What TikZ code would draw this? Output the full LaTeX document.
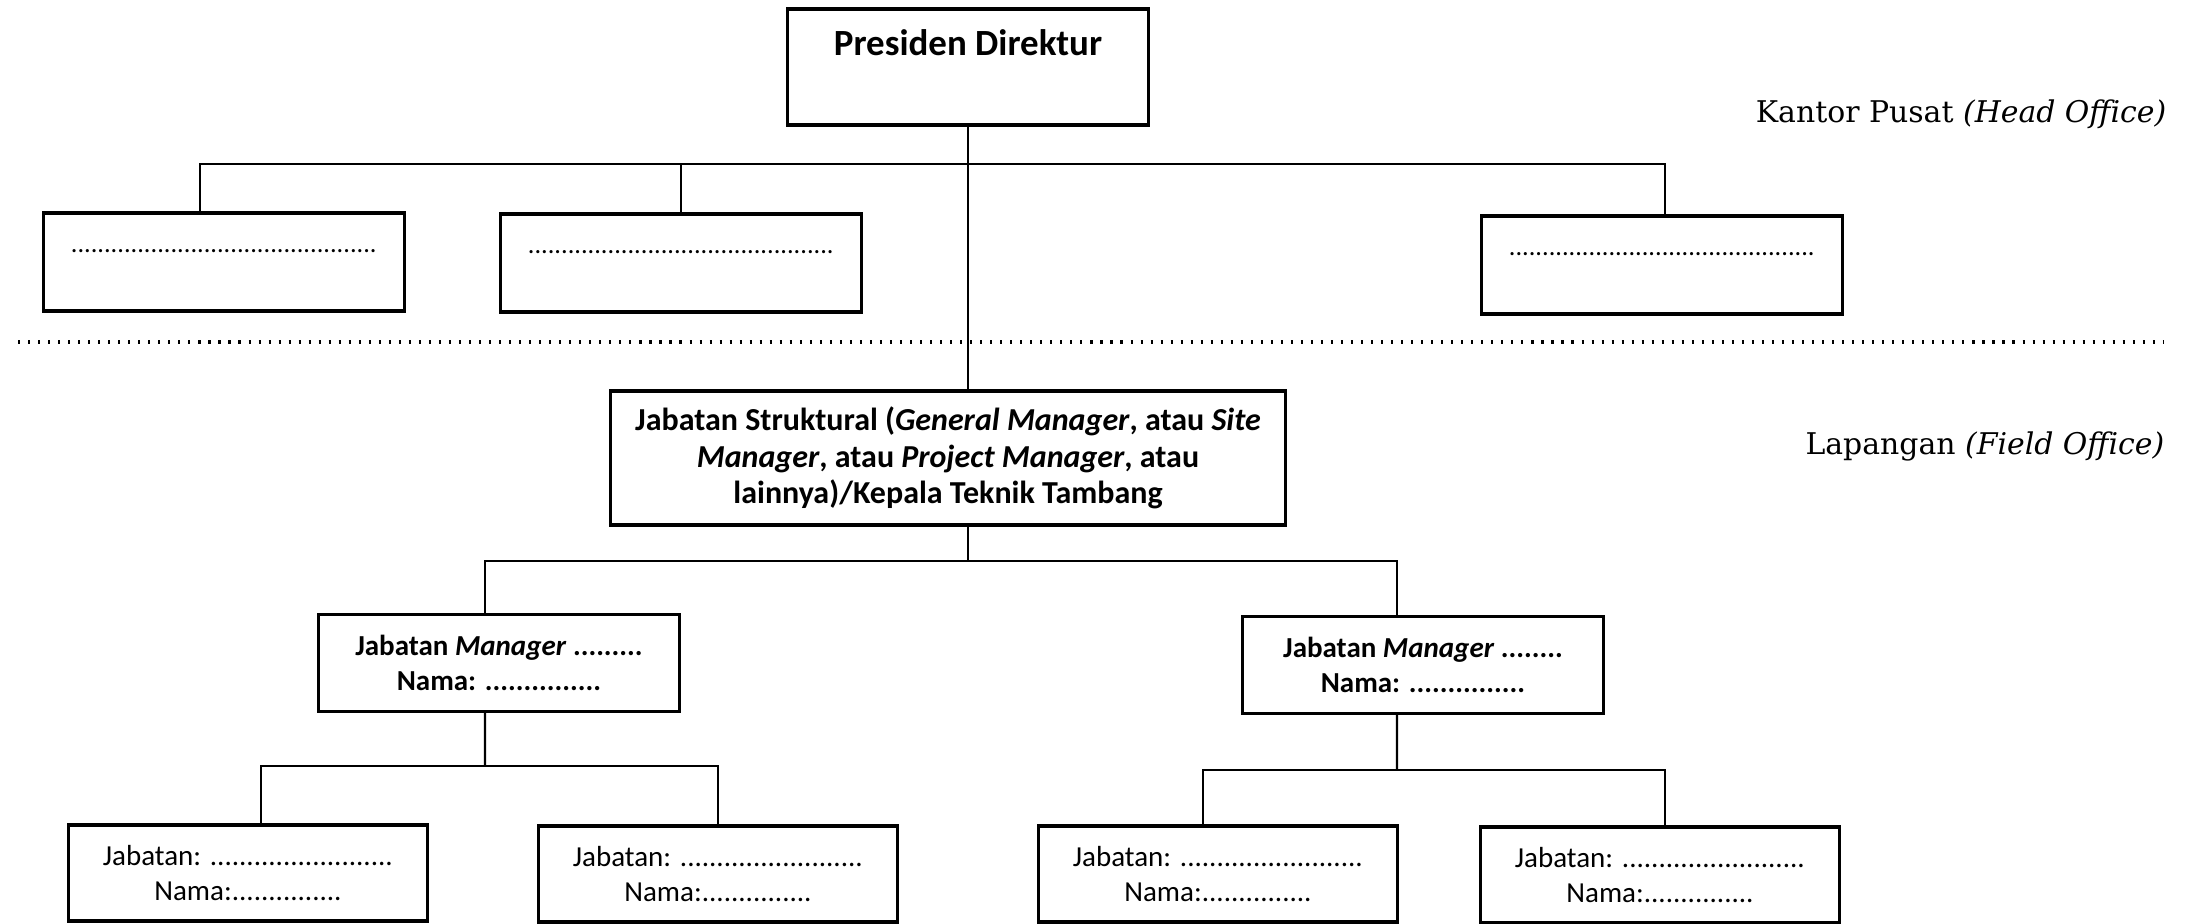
\documentclass[tikz,border=0pt]{standalone}
\usepackage{fontspec}
\usepackage{tikz}
\newfontfamily\calibri{Carlito}
\newfontfamily\bookman{DejaVu Serif}
\tikzset{
  kotak/.style = {draw=black, rectangle, line width=0.9pt, inner sep=0pt,
    text centered},
  kotak_pd/.style = {kotak, minimum width=3.61cm, text height=0.46cm,
    text depth=0.70cm, font=\calibri\bfseries\fontsize{10.5}{12}\selectfont},% presiden direktur
  kotak_hq/.style = {kotak, minimum width=3.6cm, text height=0.39cm,
    text depth=0.59cm, font=\calibri\fontsize{7.5}{9}\selectfont},% kantor pusat
  kotak_js/.style = {kotak, align=center, minimum width=6.75cm, minimum height=1.34cm,
    font=\calibri\bfseries\fontsize{9.1}{10.4}\selectfont},% jabatan struktural
  kotak_mgr/.style = {kotak, align=center, minimum width=3.6cm, minimum height=0.97cm,
    font=\calibri\bfseries\fontsize{8.25}{9.96}\selectfont},% manager
  kotak_st/.style = {kotak, align=center, minimum width=3.59cm, minimum height=0.96cm,
    font=\calibri\fontsize{8.25}{9.96}\selectfont},% staf
  ket/.style = {anchor=base east, inner sep=0pt,
    font=\bookman\fontsize{8.5}{10}\selectfont},% keterangan
  garis/.style = {draw=black, line width=0.6pt},
  batas/.style = {draw=black, line width=1.3pt, dash pattern=on 0.6pt off 2.25pt}
}

\begin{document}
\begin{tikzpicture}[x=0.01cm, y=-0.01cm]
  \useasboundingbox (0,0) rectangle (2194,923);
  % kantor pusat
  \node [kotak_pd] (pres) at (968,67) {Presiden Direktur};
  \node [kotak_hq] (hq1) at (224,262) {..............................................};
  \node [kotak_hq] (hq2) at (681,263) {..............................................};
  \node [kotak_hq] (hq3) at (1662,265) {..............................................};
  \coordinate (bus1) at (968,164);
  \node [ket] (lbl_hq) at (2167,122) {Kantor Pusat \textit{(Head Office)}};

  \draw [batas] (18,342) -- (2164,342);

  % lapangan
  \node [kotak_js] (js) at (948,458) {Jabatan Struktural (\textit{General Manager}, atau \textit{Site}\\
    \textit{Manager}, atau \textit{Project Manager}, atau\\ lainnya)/Kepala Teknik Tambang};
  \node [ket] (lbl_lap) at (2165,454) {Lapangan \textit{(Field Office)}};
  \coordinate (bus2) at (968,561);
  \node [kotak_mgr] (mgr1) at (499,663) {Jabatan \textit{Manager} .........\\ Nama: ...............};
  \node [kotak_mgr] (mgr2) at (1423,665) {Jabatan \textit{Manager} ........\\ Nama: ...............};
  \coordinate (bus3a) at (485,766);
  \coordinate (bus3b) at (1397,770);
  \node [kotak_st] (st1) at (248,873) {Jabatan: .........................\\ Nama:...............};
  \node [kotak_st] (st2) at (718,874) {Jabatan: .........................\\ Nama:...............};
  \node [kotak_st] (st3) at (1218,874) {Jabatan: .........................\\ Nama:...............};
  \node [kotak_st] (st4) at (1660,875) {Jabatan: .........................\\ Nama:...............};

  % garis
  \draw [garis] (pres.south) -- (pres.south |- js.north);
  \draw [garis] ([xshift=-0.24cm]hq1.north) |- (bus1) -| ([xshift=0.03cm]hq3.north);
  \draw [garis] (hq2.north |- bus1) -- (hq2.north);
  \draw [garis] (bus2 |- js.south) -- (bus2);
  \draw [garis] ([xshift=-0.14cm]mgr1.north) |- (bus2) -| ([xshift=-0.26cm]mgr2.north);
  \draw [garis] ([xshift=-0.14cm]mgr1.south) -- (bus3a);
  \draw [garis] ([xshift=0.13cm]st1.north) |- (bus3a) -| (st2.north);
  \draw [garis] ([xshift=-0.26cm]mgr2.south) -- (bus3b);
  \draw [garis] ([xshift=-0.15cm]st3.north) |- (bus3b) -| ([xshift=0.05cm]st4.north);
\end{tikzpicture}
\end{document}
